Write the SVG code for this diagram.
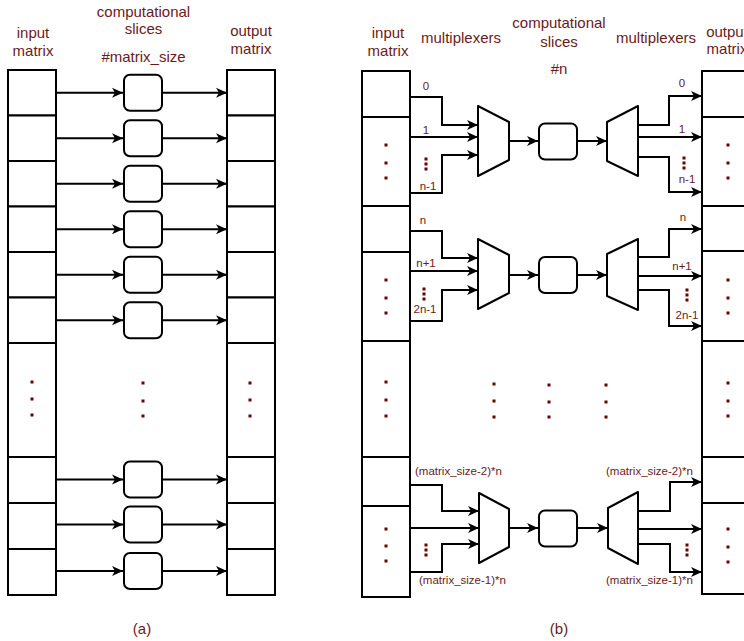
<svg xmlns="http://www.w3.org/2000/svg" width="744" height="641" viewBox="0 0 744 641">
<style>
  .cell{fill:#fff;stroke:#000;stroke-width:2}
  .slice{fill:#fff;stroke:#000;stroke-width:2}
  .mux{fill:#fff;stroke:#000;stroke-width:2;stroke-linejoin:round}
  .c{fill:none;stroke:#000;stroke-width:2;marker-end:url(#ah)}
  .d{fill:#6b0000}
  .t{font-family:"Liberation Sans",Arial,sans-serif;font-size:15px;fill:#6b1a1a;text-anchor:middle}
  .l{font-family:"Liberation Sans",Arial,sans-serif;font-size:11.5px;fill:#6b1a1a;text-anchor:middle}
</style>
<defs>
  <marker id="ah" markerUnits="userSpaceOnUse" markerWidth="12" markerHeight="11" viewBox="0 0 12 11" refX="11" refY="5.5" orient="auto">
    <path d="M0,0.5 L11,5.5 L0,10.5 L3,5.5 z" fill="#000"/>
  </marker>
</defs>
<rect width="744" height="641" fill="#fff"/>

<!-- (a) -->
<g id="a_input_matrix">
  <rect class="cell" x="8" y="70" width="48" height="45.5"/>
  <rect class="cell" x="8" y="115.5" width="48" height="45.5"/>
  <rect class="cell" x="8" y="161" width="48" height="45.5"/>
  <rect class="cell" x="8" y="206.5" width="48" height="45.5"/>
  <rect class="cell" x="8" y="252" width="48" height="45.5"/>
  <rect class="cell" x="8" y="297.5" width="48" height="45.5"/>
  <rect class="cell" x="8" y="343" width="48" height="114"/>
  <rect class="cell" x="8" y="457" width="48" height="46"/>
  <rect class="cell" x="8" y="503" width="48" height="46"/>
  <rect class="cell" x="8" y="549" width="48" height="46"/>
  <rect class="d" x="30.5" y="380.5" width="3" height="3"/>
  <rect class="d" x="30.5" y="397.5" width="3" height="3"/>
  <rect class="d" x="30.5" y="413.5" width="3" height="3"/>
</g>
<g id="a_slices">
  <rect class="slice" x="124" y="74.75" width="38" height="36" rx="6"/>
  <rect class="slice" x="124" y="120.25" width="38" height="36" rx="6"/>
  <rect class="slice" x="124" y="165.75" width="38" height="36" rx="6"/>
  <rect class="slice" x="124" y="211.25" width="38" height="36" rx="6"/>
  <rect class="slice" x="124" y="256.75" width="38" height="36" rx="6"/>
  <rect class="slice" x="124" y="302.25" width="38" height="36" rx="6"/>
  <rect class="slice" x="124" y="461.5" width="38" height="36" rx="6"/>
  <rect class="slice" x="124" y="506.5" width="38" height="36" rx="6"/>
  <rect class="slice" x="124" y="553" width="38" height="36" rx="6"/>
  <rect class="d" x="141.5" y="381.5" width="3" height="3"/>
  <rect class="d" x="141.5" y="399.5" width="3" height="3"/>
  <rect class="d" x="141.5" y="414.5" width="3" height="3"/>
</g>
<g id="a_output_matrix">
  <rect class="cell" x="227" y="70" width="48" height="45.5"/>
  <rect class="cell" x="227" y="115.5" width="48" height="45.5"/>
  <rect class="cell" x="227" y="161" width="48" height="45.5"/>
  <rect class="cell" x="227" y="206.5" width="48" height="45.5"/>
  <rect class="cell" x="227" y="252" width="48" height="45.5"/>
  <rect class="cell" x="227" y="297.5" width="48" height="45.5"/>
  <rect class="cell" x="227" y="343" width="48" height="114"/>
  <rect class="cell" x="227" y="457" width="48" height="46"/>
  <rect class="cell" x="227" y="503" width="48" height="46"/>
  <rect class="cell" x="227" y="549" width="48" height="46"/>
  <rect class="d" x="248.5" y="381.5" width="3" height="3"/>
  <rect class="d" x="248.5" y="398.5" width="3" height="3"/>
  <rect class="d" x="248.5" y="414.5" width="3" height="3"/>
</g>

<!-- (b) -->
<g id="b_input_matrix">
  <rect class="cell" x="362" y="71" width="48" height="46"/>
  <rect class="cell" x="362" y="117" width="48" height="89"/>
  <rect class="cell" x="362" y="206" width="48" height="46"/>
  <rect class="cell" x="362" y="252" width="48" height="89"/>
  <rect class="cell" x="362" y="341" width="48" height="116"/>
  <rect class="cell" x="362" y="457" width="48" height="49"/>
  <rect class="cell" x="362" y="506" width="48" height="91"/>
  <rect class="d" x="384.5" y="143.5" width="3" height="3"/>
  <rect class="d" x="384.5" y="161.5" width="3" height="3"/>
  <rect class="d" x="384.5" y="176.5" width="3" height="3"/>
  <rect class="d" x="384.5" y="278.5" width="3" height="3"/>
  <rect class="d" x="384.5" y="296.5" width="3" height="3"/>
  <rect class="d" x="384.5" y="311.5" width="3" height="3"/>
  <rect class="d" x="384.5" y="380.5" width="3" height="3"/>
  <rect class="d" x="384.5" y="398.5" width="3" height="3"/>
  <rect class="d" x="384.5" y="414.5" width="3" height="3"/>
  <rect class="d" x="384.5" y="527.5" width="3" height="3"/>
  <rect class="d" x="384.5" y="544.5" width="3" height="3"/>
  <rect class="d" x="384.5" y="559.5" width="3" height="3"/>
</g>
<g id="b_mux1"><path class="mux" d="M478,106 L509,122 L509,160 L478,176 Z"/></g>
<g id="b_mux2"><path class="mux" d="M478,239 L509,255 L509,293 L478,309 Z"/></g>
<g id="b_mux3"><path class="mux" d="M479,493 L509,509 L509,547 L479,563 Z"/></g>
<g id="b_slice1"><rect class="slice" x="539" y="123.5" width="38" height="36" rx="6"/></g>
<g id="b_slice2"><rect class="slice" x="539" y="257" width="38" height="36" rx="6"/></g>
<g id="b_slice3"><rect class="slice" x="539" y="510.5" width="38" height="36" rx="6"/></g>
<g id="b_slice_dots">
  <rect class="d" x="492.5" y="382.5" width="3" height="3"/>
  <rect class="d" x="492.5" y="399.5" width="3" height="3"/>
  <rect class="d" x="492.5" y="415.5" width="3" height="3"/>
  <rect class="d" x="547.5" y="383.5" width="3" height="3"/>
  <rect class="d" x="547.5" y="400.5" width="3" height="3"/>
  <rect class="d" x="547.5" y="415.5" width="3" height="3"/>
  <rect class="d" x="604.5" y="383.5" width="3" height="3"/>
  <rect class="d" x="604.5" y="400.5" width="3" height="3"/>
  <rect class="d" x="604.5" y="415.5" width="3" height="3"/>
</g>
<g id="b_demux1"><path class="mux" d="M607,122 L638,106 L638,176 L607,161 Z"/></g>
<g id="b_demux2"><path class="mux" d="M607,254 L638,239 L638,310 L607,296 Z"/></g>
<g id="b_demux3"><path class="mux" d="M608,508 L638,492 L638,564 L608,548 Z"/></g>
<g id="b_output_matrix">
  <rect class="cell" x="702" y="71" width="48" height="46"/>
  <rect class="cell" x="702" y="117" width="48" height="89"/>
  <rect class="cell" x="702" y="206" width="48" height="45"/>
  <rect class="cell" x="702" y="251" width="48" height="90"/>
  <rect class="cell" x="702" y="341" width="48" height="116"/>
  <rect class="cell" x="702" y="457" width="48" height="46"/>
  <rect class="cell" x="702" y="503" width="48" height="91"/>
  <rect class="d" x="726.5" y="143.5" width="3" height="3"/>
  <rect class="d" x="726.5" y="161.5" width="3" height="3"/>
  <rect class="d" x="726.5" y="176.5" width="3" height="3"/>
  <rect class="d" x="726.5" y="278.5" width="3" height="3"/>
  <rect class="d" x="726.5" y="296.5" width="3" height="3"/>
  <rect class="d" x="726.5" y="311.5" width="3" height="3"/>
  <rect class="d" x="726.5" y="381.5" width="3" height="3"/>
  <rect class="d" x="726.5" y="399.5" width="3" height="3"/>
  <rect class="d" x="726.5" y="414.5" width="3" height="3"/>
  <rect class="d" x="726.5" y="527.5" width="3" height="3"/>
  <rect class="d" x="726.5" y="545.5" width="3" height="3"/>
  <rect class="d" x="726.5" y="560.5" width="3" height="3"/>
</g>

<g id="connectors">
  <!-- (a) -->
  <path class="c" d="M56,92.75 H123"/><path class="c" d="M162,92.75 H227"/>
  <path class="c" d="M56,138.25 H123"/><path class="c" d="M162,138.25 H227"/>
  <path class="c" d="M56,183.75 H123"/><path class="c" d="M162,183.75 H227"/>
  <path class="c" d="M56,229.25 H123"/><path class="c" d="M162,229.25 H227"/>
  <path class="c" d="M56,274.75 H123"/><path class="c" d="M162,274.75 H227"/>
  <path class="c" d="M56,320.25 H123"/><path class="c" d="M162,320.25 H227"/>
  <path class="c" d="M56,479.5 H123"/><path class="c" d="M162,479.5 H227"/>
  <path class="c" d="M56,524.5 H123"/><path class="c" d="M162,524.5 H227"/>
  <path class="c" d="M56,571 H123"/><path class="c" d="M162,571 H227"/>
  <!-- (b) group 1 -->
  <path class="c" d="M410,97 H442 V125 H478"/>
  <path class="c" d="M410,137 H478"/>
  <path class="c" d="M410,193 H442 V155 H478"/>
  <path class="c" d="M509,141 H538"/>
  <path class="c" d="M577,141 H607"/>
  <path class="c" d="M638,125 H669 V96 H702"/>
  <path class="c" d="M638,137 H702"/>
  <path class="c" d="M638,157 H669 V192 H702"/>
  <!-- (b) group 2 -->
  <path class="c" d="M410,231 H442 V258 H478"/>
  <path class="c" d="M410,271 H478"/>
  <path class="c" d="M410,321 H442 V290 H478"/>
  <path class="c" d="M509,275 H538"/>
  <path class="c" d="M577,275 H607"/>
  <path class="c" d="M638,257 H669 V229 H702"/>
  <path class="c" d="M638,276 H702"/>
  <path class="c" d="M638,290 H669 V326 H702"/>
  <!-- (b) group 3 -->
  <path class="c" d="M410,485 H442 V511 H479"/>
  <path class="c" d="M410,528 H479"/>
  <path class="c" d="M410,572 H442 V544 H479"/>
  <path class="c" d="M509,528 H538"/>
  <path class="c" d="M577,528 H608"/>
  <path class="c" d="M638,511 H670 V482 H702"/>
  <path class="c" d="M638,529 H702"/>
  <path class="c" d="M638,544 H670 V572 H702"/>
</g>

<g id="label_dots">
  <rect class="d" x="424.5" y="157.5" width="3" height="3"/>
  <rect class="d" x="424.5" y="162.5" width="3" height="3"/>
  <rect class="d" x="424.5" y="167.5" width="3" height="3"/>
  <rect class="d" x="682.5" y="156.5" width="3" height="3"/>
  <rect class="d" x="682.5" y="161.5" width="3" height="3"/>
  <rect class="d" x="682.5" y="166.5" width="3" height="3"/>
  <rect class="d" x="422.5" y="287.5" width="3" height="3"/>
  <rect class="d" x="422.5" y="292.5" width="3" height="3"/>
  <rect class="d" x="422.5" y="297.5" width="3" height="3"/>
  <rect class="d" x="685.5" y="288.5" width="3" height="3"/>
  <rect class="d" x="685.5" y="293.5" width="3" height="3"/>
  <rect class="d" x="685.5" y="298.5" width="3" height="3"/>
  <rect class="d" x="424.5" y="543.5" width="3" height="3"/>
  <rect class="d" x="424.5" y="548.5" width="3" height="3"/>
  <rect class="d" x="424.5" y="553.5" width="3" height="3"/>
  <rect class="d" x="685.5" y="543.5" width="3" height="3"/>
  <rect class="d" x="685.5" y="548.5" width="3" height="3"/>
  <rect class="d" x="685.5" y="553.5" width="3" height="3"/>
</g>

<g id="texts">
  <text class="t" x="33" y="38">input</text>
  <text class="t" x="33" y="56">matrix</text>
  <text class="t" x="143.5" y="17">computational</text>
  <text class="t" x="143.5" y="34">slices</text>
  <text class="t" x="143.5" y="62">#matrix_size</text>
  <text class="t" x="251" y="36">output</text>
  <text class="t" x="251" y="54">matrix</text>
  <text class="t" x="142" y="634">(a)</text>

  <text class="t" x="388" y="38">input</text>
  <text class="t" x="388" y="56">matrix</text>
  <text class="t" x="461" y="43">multiplexers</text>
  <text class="t" x="559" y="28">computational</text>
  <text class="t" x="559" y="47">slices</text>
  <text class="t" x="559" y="74">#n</text>
  <text class="t" x="656" y="43">multiplexers</text>
  <text class="t" x="727" y="37">output</text>
  <text class="t" x="727" y="54">matrix</text>
  <text class="t" x="559" y="634">(b)</text>

  <text class="l" x="426" y="90">0</text>
  <text class="l" x="426" y="134">1</text>
  <text class="l" x="428" y="190">n-1</text>
  <text class="l" x="682" y="87">0</text>
  <text class="l" x="682" y="133">1</text>
  <text class="l" x="687" y="183">n-1</text>
  <text class="l" x="423" y="224">n</text>
  <text class="l" x="426" y="267">n+1</text>
  <text class="l" x="425" y="313">2n-1</text>
  <text class="l" x="683" y="221">n</text>
  <text class="l" x="682" y="270">n+1</text>
  <text class="l" x="687" y="319">2n-1</text>
  <text class="l" x="458.5" y="475">(matrix_size-2)*n</text>
  <text class="l" x="462.5" y="584">(matrix_size-1)*n</text>
  <text class="l" x="649.5" y="475">(matrix_size-2)*n</text>
  <text class="l" x="649.5" y="584">(matrix_size-1)*n</text>
</g>
</svg>
